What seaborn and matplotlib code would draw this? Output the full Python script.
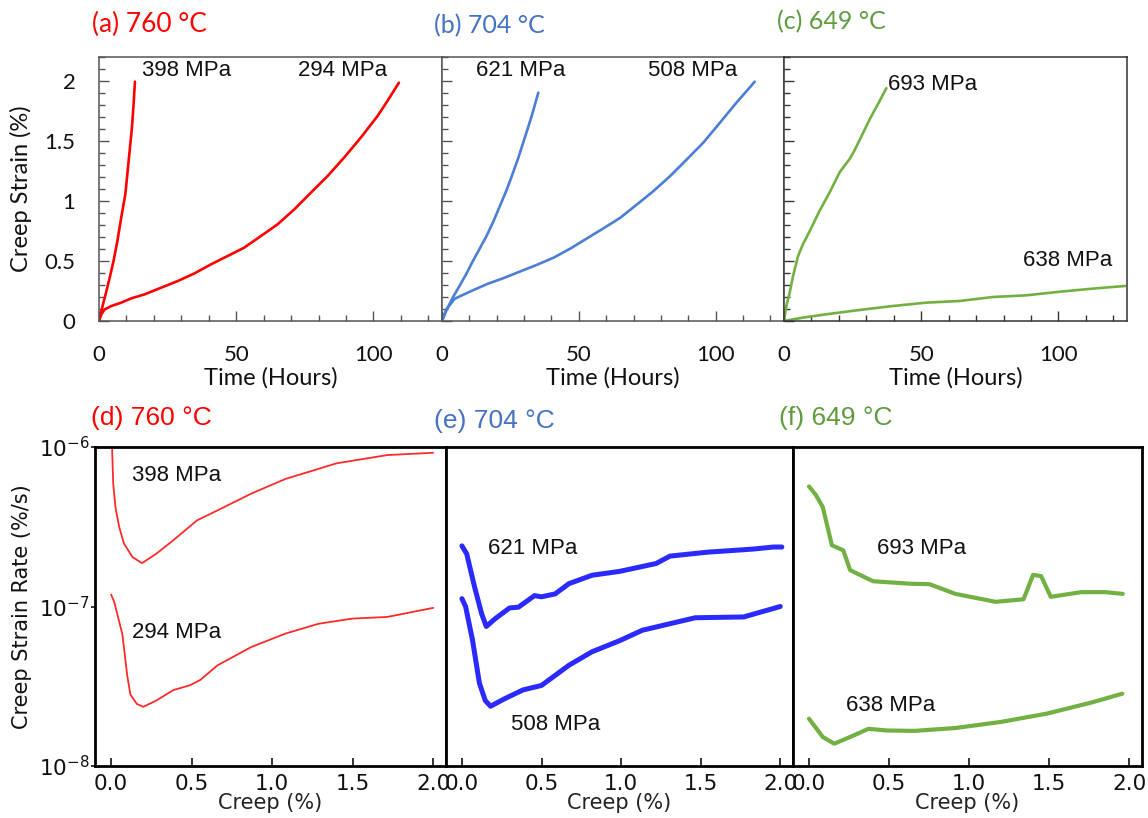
import matplotlib
matplotlib.use("Agg")
import matplotlib.pyplot as plt
from matplotlib.ticker import MultipleLocator, FixedLocator, NullLocator, FuncFormatter
import numpy as np
import pandas as pd
import seaborn as sns

# ---------------- creep strain vs time (hours, %) ----------------
t_760_398 = [0, 0.6, 1.45, 2.4, 3.9, 5.3, 6.7, 8.1, 9.6, 10.8, 12.0, 12.6, 13.1]
s_760_398 = [0, 0.056, 0.139, 0.222, 0.361, 0.5, 0.667, 0.861, 1.056, 1.333, 1.611, 1.806, 1.994]
t_760_294 = [0, 0.85, 2.1, 4.5, 8.1, 11.8, 16.6, 22.7, 28.7, 34.8, 40.8, 46.9, 52.9, 59.0, 65.1, 71.2,
             77.2, 83.3, 89.3, 95.4, 101.5, 105.1, 109.3]
s_760_294 = [0, 0.056, 0.097, 0.125, 0.153, 0.189, 0.222, 0.278, 0.333, 0.397, 0.472, 0.542, 0.611,
             0.708, 0.806, 0.931, 1.069, 1.208, 1.361, 1.528, 1.708, 1.833, 1.986]

t_704_621 = [0, 1.5, 3.9, 6.4, 8.8, 11.3, 13.7, 16.2, 18.7, 21.1, 23.6, 25.4, 27.9, 30.3, 32.8, 35.2]
s_704_621 = [0, 0.083, 0.194, 0.292, 0.389, 0.5, 0.6, 0.705, 0.825, 0.955, 1.09, 1.2, 1.36, 1.53,
             1.71, 1.903]
t_704_508 = [0, 1.6, 4.6, 10.7, 16.7, 22.8, 28.8, 34.9, 41, 47, 53.1, 59.2, 65.2, 71.3, 77.3, 83.4,
             89.5, 95.5, 101.6, 107.6, 114.3]
s_704_508 = [0, 0.097, 0.185, 0.25, 0.31, 0.36, 0.415, 0.47, 0.53, 0.605, 0.69, 0.775, 0.861,
             0.972, 1.083, 1.208, 1.347, 1.486, 1.653, 1.819, 1.994]

t_649_693 = [0, 0.85, 2.07, 3.3, 3.9, 5.1, 6.9, 9.4, 13, 16.6, 20.3, 23.9, 25.2, 27.6, 31.2, 34.3, 37.3]
s_649_693 = [0, 0.125, 0.236, 0.375, 0.43, 0.54, 0.64, 0.75, 0.92, 1.07, 1.24, 1.35, 1.40, 1.51, 1.68,
             1.81, 1.94]
t_649_638 = [0, 6.9, 15.4, 27.6, 39.7, 51.9, 64, 76.2, 88.3, 100.5, 112.6, 124.4]
s_649_638 = [0, 0.028, 0.056, 0.092, 0.125, 0.153, 0.167, 0.2, 0.214, 0.244, 0.27, 0.292]

# ---------------- creep strain rate vs creep (%, %/s) ----------------
c_760_398 = [0.006, 0.013, 0.027, 0.05, 0.08, 0.133, 0.192, 0.28, 0.386, 0.534, 0.66, 0.87, 1.082, 1.4,
             1.715, 2.0]
r_760_398 = [1.0e-6, 5.9e-7, 4.2e-7, 3.16e-7, 2.48e-7, 2.04e-7, 1.87e-7, 2.14e-7, 2.6e-7, 3.47e-7, 4.0e-7,
             5.1e-7, 6.3e-7, 7.9e-7, 8.9e-7, 9.2e-7]
c_760_294 = [0.0, 0.019, 0.07, 0.1, 0.12, 0.16, 0.2, 0.28, 0.386, 0.49, 0.555, 0.66, 0.87, 1.082, 1.29, 1.5,
             1.715, 2.0]
r_760_294 = [1.19e-7, 1.07e-7, 6.7e-8, 3.7e-8, 2.8e-8, 2.45e-8, 2.35e-8, 2.57e-8, 2.99e-8, 3.21e-8, 3.47e-8,
             4.27e-8, 5.57e-8, 6.76e-8, 7.8e-8, 8.4e-8, 8.6e-8, 9.8e-8]

c_704_621 = [0, 0.03, 0.08, 0.124, 0.153, 0.21, 0.3, 0.355, 0.456, 0.5, 0.586, 0.672, 0.817, 0.99, 1.22, 1.307,
             1.54, 1.827, 1.957, 2.01]
r_704_621 = [2.4e-7, 2.14e-7, 1.32e-7, 9.0e-8, 7.5e-8, 8.4e-8, 9.8e-8, 9.9e-8, 1.17e-7, 1.15e-7, 1.2e-7,
             1.39e-7, 1.57e-7, 1.66e-7, 1.86e-7, 2.07e-7, 2.19e-7, 2.29e-7, 2.36e-7, 2.36e-7]
c_704_508 = [0, 0.023, 0.066, 0.11, 0.147, 0.18, 0.268, 0.384, 0.5, 0.672, 0.817, 0.99, 1.134, 1.307, 1.466,
             1.77, 2.0]
r_704_508 = [1.12e-7, 1.0e-7, 6.2e-8, 3.3e-8, 2.57e-8, 2.37e-8, 2.64e-8, 3.0e-8, 3.2e-8, 4.28e-8, 5.2e-8,
             6.1e-8, 7.1e-8, 7.8e-8, 8.5e-8, 8.6e-8, 1.0e-7]

c_649_693 = [0, 0.043, 0.086, 0.143, 0.214, 0.257, 0.3, 0.4, 0.63, 0.753, 0.914, 1.165, 1.34, 1.40, 1.45,
             1.51, 1.70, 1.85, 1.96]
r_649_693 = [5.66e-7, 5.0e-7, 4.2e-7, 2.42e-7, 2.25e-7, 1.69e-7, 1.61e-7, 1.44e-7, 1.39e-7, 1.38e-7, 1.2e-7,
             1.07e-7, 1.11e-7, 1.58e-7, 1.55e-7, 1.15e-7, 1.23e-7, 1.23e-7, 1.2e-7]
c_649_638 = [0, 0.086, 0.157, 0.257, 0.371, 0.486, 0.657, 0.914, 1.2, 1.486, 1.771, 1.957]
r_649_638 = [1.98e-8, 1.52e-8, 1.38e-8, 1.52e-8, 1.71e-8, 1.67e-8, 1.66e-8, 1.73e-8, 1.89e-8, 2.13e-8,
             2.51e-8, 2.84e-8]

temps = ["760 °C", "704 °C", "649 °C"]
stress_labels = [["398 MPa", "294 MPa"], ["621 MPa", "508 MPa"], ["693 MPa", "638 MPa"]]

sns.set_theme(style="ticks")
plt.rcParams["font.family"] = ["DejaVu Sans"]
plt.rcParams["mathtext.fontset"] = "dejavusans"

W, H = 1148, 818
fig = plt.figure(figsize=(W / 100, H / 100), dpi=100)


def px_rect(x0, y0, x1, y1):
    return [x0 / W, 1 - y1 / H, (x1 - x0) / W, (y1 - y0) / H]


title_cols = ["#ff0000", "#4472c4", "#5e9c3e"]
top_line_cols = ["#ff0000", "#4a7fd4", "#72b043"]
bot_line_cols = ["#ff2a2a", "#2a2aff", "#72b043"]

# ---------------- top row ----------------
top_rects = [(99, 57, 442, 321), (442, 57, 784, 321), (784, 57, 1127, 321)]
top_curves = [
    [(t_760_398, s_760_398), (t_760_294, s_760_294)],
    [(t_704_621, s_704_621), (t_704_508, s_704_508)],
    [(t_649_693, s_649_693), (t_649_638, s_649_638)],
]
top_label_pos = [[(0.125, 0.947), (0.58, 0.947)],
                 [(0.099, 0.95), (0.602, 0.95)],
                 [(0.303, 0.894), (0.697, 0.231)]]
frame_cols = ["#555555", "#555555", "#333333"]

for i in range(3):
    ax = fig.add_axes(px_rect(*top_rects[i]))
    for (t, s), lab in zip(top_curves[i], stress_labels[i]):
        df = pd.DataFrame({"Time": t, "Strain": s})
        sns.lineplot(data=df, x="Time", y="Strain", ax=ax, color=top_line_cols[i], lw=1.9,
                     sort=False, estimator=None, solid_joinstyle="round")
    for lab, (lx, ly) in zip(stress_labels[i], top_label_pos[i]):
        ax.text(lx, ly, lab, transform=ax.transAxes, ha="left", va="center",
                fontsize=16, family="Liberation Sans", color="#111111")
    ax.set_xlim(0, 125)
    ax.set_ylim(0, 2.2)
    ax.set_xticks([0, 50, 100])
    ax.xaxis.set_minor_locator(MultipleLocator(10))
    ax.set_yticks([0, 0.5, 1, 1.5, 2])
    ax.yaxis.set_minor_locator(MultipleLocator(0.1))
    ax.yaxis.set_major_formatter(FuncFormatter(lambda v, _: f"{v:g}"))
    ax.tick_params(which="both", direction="in", colors=frame_cols[i], width=1.0,
                   labelcolor="#111111", labelsize=16, labelfontfamily="Lato", pad=17)
    ax.tick_params(which="major", length=7)
    ax.tick_params(which="minor", length=4.5)
    for sp in ax.spines.values():
        sp.set_visible(True)
        sp.set_color(frame_cols[i])
        sp.set_linewidth(1.1)
    ax.set_xlabel("Time (Hours)", fontsize=17, family="Lato", color="#111111")
    ax.xaxis.set_label_coords(0.5, -0.175)
    ax.xaxis.label.set_va("top")
    if i == 0:
        ax.set_ylabel("Creep Strain (%)", fontsize=17, family="Lato", color="#111111")
        ax.yaxis.set_label_coords(-0.195, 0.5)
    else:
        ax.set_ylabel("")
        ax.tick_params(labelleft=False)

# ---------------- bottom row ----------------
bot_rects = [(95, 447, 446, 766), (446, 447, 793, 766), (793, 447, 1142, 766)]
bot_curves = [
    [(c_760_398, r_760_398), (c_760_294, r_760_294)],
    [(c_704_621, r_704_621), (c_704_508, r_704_508)],
    [(c_649_693, r_649_693), (c_649_638, r_649_638)],
]
bot_lw = [1.3, 3.6, 3.0]
bot_label_pos = [[(0.105, 0.912), (0.105, 0.417)],
                 [(0.121, 0.683), (0.187, 0.129)],
                 [(0.241, 0.683), (0.152, 0.191)]]

for i in range(3):
    ax = fig.add_axes(px_rect(*bot_rects[i]))
    for (c, r), lab in zip(bot_curves[i], stress_labels[i]):
        df = pd.DataFrame({"Creep": c, "Rate": r})
        sns.lineplot(data=df, x="Creep", y="Rate", ax=ax, color=bot_line_cols[i], lw=bot_lw[i],
                     sort=False, estimator=None, solid_capstyle="round", solid_joinstyle="round")
    for lab, (lx, ly) in zip(stress_labels[i], bot_label_pos[i]):
        ax.text(lx, ly, lab, transform=ax.transAxes, ha="left", va="center",
                fontsize=16, family="Liberation Sans", color="#111111")
    ax.set_yscale("log")
    ax.set_ylim(1e-8, 1e-6)
    ax.set_xlim(-0.1, 2.08)
    ax.yaxis.set_major_locator(FixedLocator([1e-8, 1e-7, 1e-6]))
    ax.yaxis.set_minor_locator(NullLocator())
    ax.set_xticks([0, 0.5, 1.0, 1.5, 2.0])
    ax.set_xticklabels(["0.0", "0.5", "1.0", "1.5", "2.0"])
    ax.tick_params(axis="x", direction="in", length=6, width=1.2, colors="#111111",
                   labelsize=15.5, pad=6)
    ax.tick_params(axis="y", direction="out", length=3, width=1.2, colors="#111111",
                   labelsize=15.5, pad=1)
    for sp in ax.spines.values():
        sp.set_visible(True)
        sp.set_color("black")
        sp.set_linewidth(2.0)
    ax.set_xlabel("Creep (%)", fontsize=15, color="#222222")
    ax.xaxis.set_label_coords(0.5, -0.085)
    ax.xaxis.label.set_va("top")
    if i == 0:
        ax.set_ylabel("Creep Strain Rate (%/s)", fontsize=15, color="#111111")
        ax.yaxis.set_label_coords(-0.18, 0.5)
    else:
        ax.set_ylabel("")
        ax.tick_params(axis="y", left=False, labelleft=False)

# ---------------- panel titles ----------------
top_title_pos = [(92, 24), (434, 26), (777, 22)]
top_title_size = [19, 18, 18]
bot_title_pos = [(91, 418), (434, 421), (779, 418)]
for i, (px, py) in enumerate(top_title_pos):
    fig.text(px / W, 1 - py / H, f"({'abc'[i]}) {temps[i]}", ha="left", va="center",
             fontsize=top_title_size[i], family="Lato", color=title_cols[i])
for i, (px, py) in enumerate(bot_title_pos):
    fig.text(px / W, 1 - py / H, f"({'def'[i]}) {temps[i]}", ha="left", va="center",
             fontsize=19, family="Liberation Sans", color=title_cols[i])

fig.savefig("out.png", dpi=100)
